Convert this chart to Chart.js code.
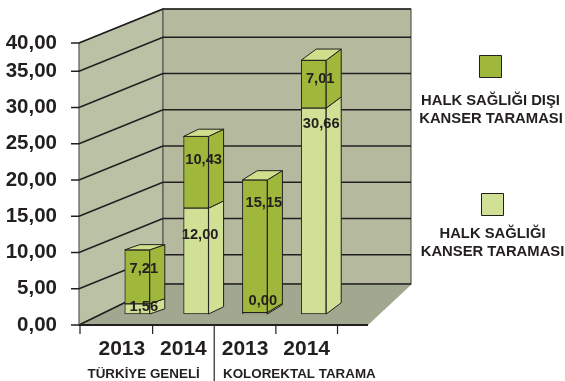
<!DOCTYPE html>
<html>
<head>
<meta charset="utf-8">
<style>
  html, body { margin: 0; padding: 0; background: #fff; }
  canvas { display: block; }
</style>
<script src="https://cdn.jsdelivr.net/npm/chart.js@4"></script>
</head>
<body>
<canvas id="chart" width="565" height="381"></canvas>
<script>
const years = ['2013', '2014', '2013', '2014'];
const groupLabels = ['TÜRKİYE GENELİ', 'KOLOREKTAL TARAMA'];

// bar heights read against the axis, the source bars do not follow their printed values
const halkSagligi = [1.4, 14.6, 0.2, 28.4];
const halkSagligiDisi = [7.45, 9.9, 18.3, 6.6];

// values printed on the bars
const halkSagligiText = ['1,56', '12,00', '0,00', '30,66'];
const halkSagligiDisiText = ['7,21', '10,43', '15,15', '7,01'];

// the top tick sits closer than the others in the source
const yTickValues = [0, 5, 10, 15, 20, 25, 30, 35, 38.9];
const yTickLabels = ['0,00', '5,00', '10,00', '15,00', '20,00', '25,00', '30,00', '35,00', '40,00'];

const legendDisi = ['HALK SAĞLIĞI DIŞI', 'KANSER TARAMASI'];
const legendHalk = ['HALK SAĞLIĞI', 'KANSER TARAMASI'];

const FONT = '"Liberation Sans", Arial, sans-serif';
const INK = '#231f20';
const DARK = '#9fb73a';
const LIGHT = '#d0e094';
const TOP_FACE = '#cfdf8c';

// distance of each printed value from the top of its segment, in px
const lightTextDy = [3, 27, -12, 16];
const darkTextDy = [19, 24, 23, 19];
const lightTextDx = [6.5, 4, 8, 7.5];
const darkTextDx = [6.5, 7.5, 9, 6.5];

const wallLeft = 79, backLeft = 163, backRight = 411, floorRight = 368;
const floorBack = 284, backTop = 9, depthRise = 34;

function backY(y) {
  return Math.min(y - depthRise, floorBack);
}

function poly(ctx, pts, fill, stroke, lw) {
  ctx.beginPath();
  pts.forEach((p, i) => i ? ctx.lineTo(p[0], p[1]) : ctx.moveTo(p[0], p[1]));
  ctx.closePath();
  if (fill) { ctx.fillStyle = fill; ctx.fill(); }
  if (stroke) { ctx.strokeStyle = stroke; ctx.lineWidth = lw; ctx.stroke(); }
}

function line(ctx, x1, y1, x2, y2, color, lw) {
  ctx.beginPath();
  ctx.moveTo(x1, y1);
  ctx.lineTo(x2, y2);
  ctx.strokeStyle = color;
  ctx.lineWidth = lw;
  ctx.stroke();
}

function text(ctx, str, x, y, size) {
  ctx.font = 'bold ' + size + 'px ' + FONT;
  ctx.fillStyle = INK;
  ctx.textAlign = 'center';
  ctx.textBaseline = 'middle';
  ctx.fillText(str, x, y);
}

const box3d = {
  id: 'box3d',
  // bars stand inside the floor, so move them back from the axis
  afterDatasetsUpdate(chart) {
    chart.data.datasets.forEach((ds, i) => {
      chart.getDatasetMeta(i).data.forEach(el => {
        el.x = 21 + el.x * 0.9545;
        el.y -= 11;
        el.base -= 11;
      });
    });
  },
  beforeDatasetsDraw(chart) {
    const ctx = chart.ctx;
    const y = chart.scales.y;
    const x = chart.scales.x;
    const y0 = y.getPixelForValue(0);
    const yTop = y.getPixelForValue(yTickValues[yTickValues.length - 1]);

    poly(ctx, [[wallLeft, yTop], [backLeft, backTop], [backLeft, floorBack], [wallLeft, y0]], '#bac2a6', '#5a5a50', 1.2);
    poly(ctx, [[backLeft, backTop], [backRight, backTop], [backRight, floorBack], [backLeft, floorBack]], '#b5ba9e', '#5a5a50', 1.2);
    poly(ctx, [[wallLeft, y0], [backLeft, floorBack], [backRight + 1, floorBack], [floorRight, y0]], '#a0a88f');

    yTickValues.forEach(v => {
      const py = y.getPixelForValue(v);
      line(ctx, 71, py, wallLeft, py, INK, 1.5);
      line(ctx, wallLeft, py, backLeft, backY(py), INK, 1.5);
      line(ctx, backLeft, backY(py), backRight, backY(py), INK, 1.5);
    });
    line(ctx, wallLeft, y0, floorRight, y0, INK, 1.8);

    // tick marks between the categories, the middle one splits the two groups
    const step = x.getPixelForValue(1) - x.getPixelForValue(0);
    line(ctx, wallLeft + 1, y0, wallLeft + 1, 334, INK, 1.2);
    [0, 2, 3].forEach(i => {
      const px = x.getPixelForValue(i) + step / 2;
      line(ctx, px, y0, px, 334, INK, 1.2);
    });
    const mid = x.getPixelForValue(1) + step / 2;
    line(ctx, mid, y0, mid, 381, '#444', 1.4);
  },
  afterDatasetsDraw(chart) {
    const ctx = chart.ctx;
    const low = chart.getDatasetMeta(0).data;
    const high = chart.getDatasetMeta(1).data;

    const side = (el, color) => {
      const r = el.x + el.width / 2;
      const l = el.x - el.width / 2;
      const rise = 15 * (0.35 + (r - 151) * 0.00227);
      poly(ctx, [[r, el.y], [r + 15, el.y - rise], [r + 15, el.base - rise], [r, el.base]], color, INK, 1);
      return { l, r, rise };
    };

    low.forEach((el, i) => {
      side(el, LIGHT);
      const t = side(high[i], DARK);
      const top = high[i].y;
      poly(ctx, [[t.l, top], [t.l + 15, top - t.rise], [t.r + 15, top - t.rise], [t.r, top]], TOP_FACE, INK, 1);

      text(ctx, halkSagligiText[i], el.x + lightTextDx[i], el.y + lightTextDy[i], 14.7);
      text(ctx, halkSagligiDisiText[i], high[i].x + darkTextDx[i], top + darkTextDy[i], 14.7);
    });

    // group captions
    const x = chart.scales.x;
    const cx = (a, b) => (x.getPixelForValue(a) + x.getPixelForValue(b)) / 2;
    text(ctx, groupLabels[0], cx(0, 1) - 9, 374.5, 13.4);
    text(ctx, groupLabels[1], cx(2, 3) + 23.5, 374.5, 13.4);

    // legend
    poly(ctx, [[479.5, 55.5], [501.5, 55.5], [501.5, 77.5], [479.5, 77.5]], DARK, INK, 1);
    text(ctx, legendDisi[0], 490.5, 101, 14.8);
    text(ctx, legendDisi[1], 491, 119, 14.8);
    poly(ctx, [[481.5, 193.5], [503.5, 193.5], [503.5, 215.5], [481.5, 215.5]], LIGHT, INK, 1);
    text(ctx, legendHalk[0], 492.5, 234, 14.8);
    text(ctx, legendHalk[1], 492.5, 252, 14.8);
  }
};

new Chart(document.getElementById('chart'), {
  type: 'bar',
  data: {
    labels: years,
    datasets: [
      { label: 'HALK SAĞLIĞI KANSER TARAMASI', data: halkSagligi, backgroundColor: LIGHT, borderColor: INK, borderWidth: 1, borderSkipped: false, barThickness: 25 },
      { label: 'HALK SAĞLIĞI DIŞI KANSER TARAMASI', data: halkSagligiDisi, backgroundColor: DARK, borderColor: INK, borderWidth: 1, borderSkipped: false, barThickness: 25 }
    ]
  },
  options: {
    responsive: false,
    animation: false,
    layout: { padding: { left: 0, right: 227.5, top: 43, bottom: 0 } },
    plugins: { legend: { display: false }, tooltip: { enabled: false } },
    scales: {
      x: {
        stacked: true,
        grid: { display: false },
        border: { display: false },
        afterFit: s => { s.height = 56; },
        ticks: {
          color: INK,
          padding: 4,
          maxRotation: 0,
          autoSkip: false,
          font: { family: FONT, size: 21, weight: 'bold' }
        }
      },
      y: {
        stacked: true,
        min: 0,
        max: 38.9,
        grid: { display: false },
        border: { display: false },
        afterFit: s => { s.width = 91; },
        afterBuildTicks: s => { s.ticks = yTickValues.map(v => ({ value: v })); },
        ticks: {
          color: INK,
          padding: 26,
          callback: (v, i) => yTickLabels[i],
          font: { family: FONT, size: 20.5, weight: 'bold' }
        }
      }
    }
  },
  plugins: [box3d]
});
</script>
</body>
</html>
